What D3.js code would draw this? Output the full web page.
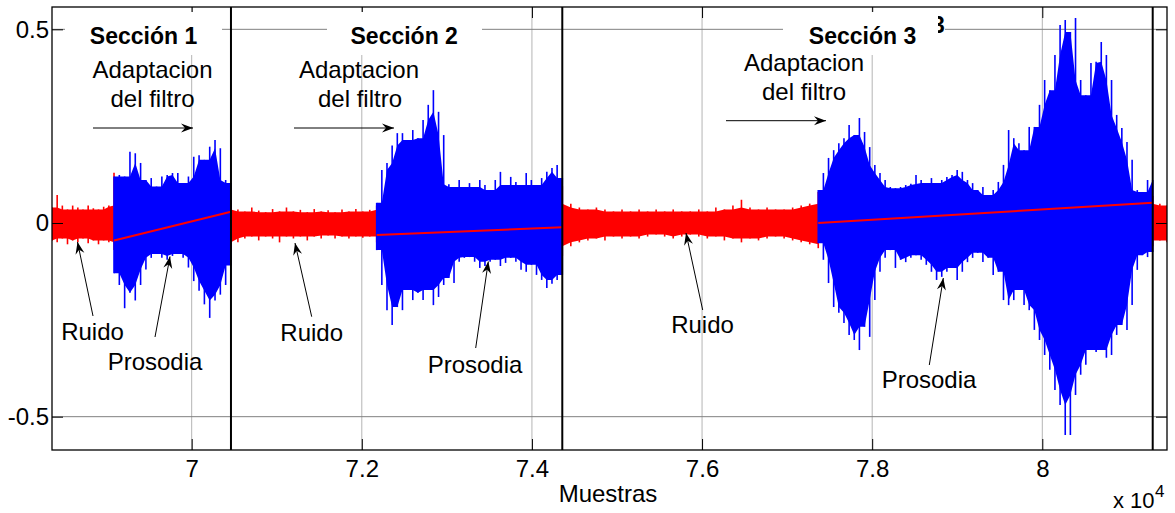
<!DOCTYPE html>
<html>
<head>
<meta charset="utf-8">
<script src="https://cdn.jsdelivr.net/npm/d3@7"></script>
<style>
  html, body { margin: 0; padding: 0; background: #fff; }
  svg { display: block; font-family: "Liberation Sans", Arial, Helvetica, sans-serif; }
</style>
</head>
<body>
<svg id="chart" width="1175" height="513"></svg>
<script>
// --- datos ---
const xDomain = [68358, 81466]
const yDomain = [-0.586, 0.5576]
const xTicks = [70000, 72000, 74000, 76000, 78000, 80000]
const yTicks = [-0.5, 0, 0.5]

// limites de cada tramo (muestras)
const ruidoTramos = [[68358, 69087], [70462, 72175], [74357, 77366], [81298, 81466]]
const prosodiaTramos = [[69087, 70462], [72175, 74357], [77366, 81298]]
const seccionLimites = [70462, 74357, 81298]

// envolventes del ruido (rojo)
const ruido1Hi = [0.04, 0.072, 0.045, 0.035, 0.045, 0.04, 0.035, 0.045, 0.038, 0.035, 0.042, 0.045, 0.13]
const ruido1Lo = [-0.045, -0.05, -0.04, -0.055, -0.045, -0.05, -0.04, -0.052, -0.045, -0.055, -0.045, -0.05, -0.07]
const ruido2Hi = [0.06, 0.035, 0.03, 0.04, 0.032, 0.028, 0.036, 0.03, 0.04, 0.03, 0.034, 0.028, 0.036, 0.03, 0.033, 0.028, 0.035, 0.03, 0.036, 0.03, 0.034, 0.045]
const ruido2Lo = [-0.075, -0.05, -0.04, -0.035, -0.045, -0.035, -0.04, -0.05, -0.035, -0.04, -0.035, -0.045, -0.035, -0.04, -0.032, -0.04, -0.035, -0.04, -0.035, -0.038, -0.035, -0.05]
const ruido3Hi = [0.095, 0.05, 0.04, 0.035, 0.04, 0.035, 0.03, 0.035, 0.03, 0.035, 0.03, 0.035, 0.03, 0.035, 0.03, 0.03, 0.035, 0.03, 0.04, 0.035, 0.045, 0.06, 0.04, 0.035, 0.04, 0.035, 0.035, 0.04, 0.045, 0.05, 0.08]
const ruido3Lo = [-0.085, -0.06, -0.05, -0.045, -0.04, -0.045, -0.035, -0.04, -0.035, -0.04, -0.035, -0.03, -0.035, -0.04, -0.035, -0.03, -0.035, -0.04, -0.035, -0.045, -0.04, -0.05, -0.04, -0.045, -0.04, -0.035, -0.04, -0.045, -0.05, -0.055, -0.065]
const ruido4Hi = [0.07, 0.05, 0.045]
const ruido4Lo = [-0.06, -0.045, -0.05]

// envolventes de la prosodia (azul)
const prosodia1Hi = [0.12, 0.124, 0.12, 0.184, 0.18, 0.155, 0.111, 0.116, 0.094, 0.12, 0.124, 0.129, 0.129, 0.103, 0.12, 0.171, 0.175, 0.163, 0.197, 0.214, 0.193, 0.111, 0.103]
const prosodia1Lo = [-0.13, -0.16, -0.22, -0.18, -0.2, -0.16, -0.12, -0.09, -0.08, -0.09, -0.095, -0.085, -0.08, -0.09, -0.115, -0.15, -0.175, -0.21, -0.245, -0.2, -0.185, -0.16, -0.11]
const prosodia2Hi = [0.052, 0.137, 0.155, 0.2, 0.232, 0.232, 0.214, 0.24, 0.219, 0.266, 0.305, 0.343, 0.287, 0.227, 0.1, 0.093, 0.111, 0.093, 0.103, 0.093, 0.111, 0.098, 0.085, 0.111, 0.132, 0.098, 0.119, 0.106, 0.098, 0.129, 0.111, 0.098, 0.116, 0.132, 0.142, 0.15, 0.116]
const prosodia2Lo = [-0.07, -0.16, -0.225, -0.263, -0.217, -0.225, -0.173, -0.199, -0.18, -0.199, -0.173, -0.212, -0.191, -0.16, -0.142, -0.155, -0.1, -0.09, -0.088, -0.1, -0.116, -0.111, -0.1, -0.095, -0.111, -0.103, -0.09, -0.1, -0.121, -0.126, -0.108, -0.134, -0.147, -0.168, -0.157, -0.147, -0.134]
const prosodia3Hi = [0.085, 0.129, 0.168, 0.188, 0.206, 0.219, 0.253, 0.227, 0.271, 0.235, 0.196, 0.150, 0.129, 0.111, 0.093, 0.090, 0.093, 0.098, 0.101, 0.124, 0.111, 0.103, 0.116, 0.103, 0.111, 0.119, 0.124, 0.137, 0.132, 0.111, 0.103, 0.085, 0.093, 0.072, 0.085, 0.106, 0.150, 0.240, 0.219, 0.206, 0.188, 0.248, 0.248, 0.305, 0.369, 0.343, 0.434, 0.511, 0.524, 0.493, 0.529, 0.369, 0.330, 0.413, 0.416, 0.467, 0.434, 0.369, 0.279, 0.245, 0.209, 0.163, 0.085, 0.080, 0.111, 0.111]
const prosodia3Lo = [-0.052, -0.095, -0.155, -0.217, -0.232, -0.258, -0.289, -0.302, -0.328, -0.268, -0.294, -0.199, -0.126, -0.090, -0.070, -0.116, -0.095, -0.101, -0.090, -0.083, -0.095, -0.108, -0.126, -0.147, -0.139, -0.126, -0.116, -0.147, -0.126, -0.101, -0.090, -0.077, -0.101, -0.090, -0.134, -0.126, -0.199, -0.212, -0.199, -0.173, -0.212, -0.225, -0.276, -0.302, -0.341, -0.379, -0.431, -0.470, -0.547, -0.547, -0.444, -0.392, -0.366, -0.328, -0.333, -0.328, -0.348, -0.341, -0.289, -0.263, -0.276, -0.212, -0.121, -0.083, -0.088, -0.075]

// tendencia del filtro (inicio, fin) en cada seccion
const tendencia = [[-0.045, 0.029], [-0.031, -0.011], [0.0, 0.052]]

// --- escalas ---
const L = 52, R = 1167, T = 7, B = 450
const x = d3.scaleLinear().domain(xDomain).range([L, R])
const y = d3.scaleLinear().domain(yDomain).range([B, T])

const svg = d3.select('#chart')
svg.append('rect').attr('width', 1175).attr('height', 513).attr('fill', '#fff')

const defs = svg.append('defs')
defs.append('clipPath').attr('id', 'plot')
    .append('rect').attr('x', L).attr('y', T).attr('width', R - L).attr('height', B - T)
defs.append('marker')
    .attr('id', 'head')
    .attr('viewBox', '-13 -6 14 12')
    .attr('refX', 0).attr('refY', 0)
    .attr('markerWidth', 14).attr('markerHeight', 12)
    .attr('markerUnits', 'userSpaceOnUse')
    .attr('orient', 'auto')
    .append('path').attr('d', 'M0,0 L-12,-4.5 L-8,0 L-12,4.5 Z').attr('fill', '#000')
defs.append('clipPath').attr('id', 'stray')
    .append('rect').attr('x', 938).attr('y', 0).attr('width', 12).attr('height', 50)

// --- rejilla ---
const grid = svg.append('g')
grid.selectAll('.gx').data(xTicks).join('line')
    .attr('x1', d => x(d)).attr('x2', d => x(d))
    .attr('y1', T).attr('y2', B)
    .attr('stroke', '#b4b4b4').attr('stroke-width', 1)
grid.selectAll('.gy').data(yTicks).join('line')
    .attr('x1', L).attr('x2', R)
    .attr('y1', d => y(d)).attr('y2', d => y(d))
    .attr('stroke', '#808080').attr('stroke-width', 1)

// --- senal ---
const plot = svg.append('g').attr('clip-path', 'url(#plot)')

// cuerpo macizo = minimo local de la envolvente, y los picos como trazos verticales
function drawTramo([s0, s1], hi, lo, color) {
    const step = (s1 - s0) / (hi.length - 1)
    const n = hi.length
    const pts = hi.map((h, i) => {
        const a = Math.max(0, i - 1), b = Math.min(n - 1, i + 1)
        return {
            s: s0 + i * step, h, l: lo[i],
            bh: Math.min(hi[a], h, hi[b]),
            bl: Math.max(lo[a], lo[i], lo[b]),
        }
    })
    plot.append('path').datum(pts)
        .attr('d', d3.area().x(d => x(d.s)).y0(d => y(d.bl)).y1(d => y(d.bh)))
        .attr('fill', color)
    plot.append('g').selectAll('line').data(pts).join('line')
        .attr('x1', d => x(d.s)).attr('x2', d => x(d.s))
        .attr('y1', d => y(d.l)).attr('y2', d => y(d.h))
        .attr('stroke', color).attr('stroke-width', 1.6)
}

const ruidoHi = [ruido1Hi, ruido2Hi, ruido3Hi, ruido4Hi]
const ruidoLo = [ruido1Lo, ruido2Lo, ruido3Lo, ruido4Lo]
ruidoTramos.forEach((t, i) => drawTramo(t, ruidoHi[i], ruidoLo[i], '#ff0000'))

const prosHi = [prosodia1Hi, prosodia2Hi, prosodia3Hi]
const prosLo = [prosodia1Lo, prosodia2Lo, prosodia3Lo]
prosodiaTramos.forEach((t, i) => drawTramo(t, prosHi[i], prosLo[i], '#0000ff'))

// lineas de tendencia
prosodiaTramos.forEach(([s0, s1], i) => {
    plot.append('line')
        .attr('x1', x(s0)).attr('x2', x(s1))
        .attr('y1', y(tendencia[i][0])).attr('y2', y(tendencia[i][1]))
        .attr('stroke', '#ff0000').attr('stroke-width', 2)
})

// limites de seccion
svg.selectAll('.sec').data(seccionLimites).join('line')
    .attr('x1', d => x(d)).attr('x2', d => x(d))
    .attr('y1', T).attr('y2', B)
    .attr('stroke', '#000').attr('stroke-width', 2)

// --- ejes ---
const fontAxis = 24
const axB = svg.append('g').attr('transform', `translate(0,${B})`)
    .call(d3.axisBottom(x).tickValues(xTicks).tickFormat(d => String(d / 10000))
        .tickSizeInner(-11).tickSizeOuter(0).tickPadding(10))
const axT = svg.append('g').attr('transform', `translate(0,${T})`)
    .call(d3.axisTop(x).tickValues(xTicks).tickFormat('').tickSizeInner(-11).tickSizeOuter(0))
const axL = svg.append('g').attr('transform', `translate(${L},0)`)
    .call(d3.axisLeft(y).tickValues(yTicks).tickFormat(d => String(d))
        .tickSizeInner(-11).tickSizeOuter(0).tickPadding(3))
const axR = svg.append('g').attr('transform', `translate(${R},0)`)
    .call(d3.axisRight(y).tickValues(yTicks).tickFormat('').tickSizeInner(-11).tickSizeOuter(0))

for (const ax of [axB, axT, axL, axR]) {
    ax.select('.domain').remove()
    ax.attr('font-family', null).attr('font-size', fontAxis)
    ax.selectAll('.tick line').attr('stroke', '#000').attr('stroke-width', 1)
    ax.selectAll('.tick text').attr('fill', '#000')
}

svg.append('rect')
    .attr('x', L).attr('y', T).attr('width', R - L).attr('height', B - T)
    .attr('fill', 'none').attr('stroke', '#000').attr('stroke-width', 1.3)

svg.append('text').attr('x', 608).attr('y', 502).attr('text-anchor', 'middle')
    .attr('font-size', 24).text('Muestras')
svg.append('text').attr('x', 1113).attr('y', 508).attr('font-size', 22).text('x 10')
svg.append('text').attr('x', 1155).attr('y', 497).attr('font-size', 17).text('4')

// --- anotaciones ---
const cajas = [
    { t: 'Sección 1', cx: 143.5, x0: 65, x1: 222 },
    { t: 'Sección 2', cx: 404.2, x0: 327, x1: 482 },
    { t: 'Sección 3', cx: 862.5, x0: 783, x1: 945 },
]
cajas.forEach(c => {
    svg.append('rect').attr('x', c.x0).attr('y', 12).attr('width', c.x1 - c.x0).attr('height', 43)
        .attr('fill', '#fff')
    svg.append('text').attr('x', c.cx).attr('y', 44).attr('text-anchor', 'middle')
        .attr('font-size', 23).attr('font-weight', 'bold').text(c.t)
})
// resto de un "3" que asoma a la derecha del tercer recuadro
svg.append('text').attr('x', 932).attr('y', 33).attr('font-size', 23).attr('font-weight', 'bold')
    .attr('clip-path', 'url(#stray)').text('3')

const textos = [
    { t: 'Adaptacion', x: 152.5, y: 78 }, { t: 'del filtro', x: 152.5, y: 107 },
    { t: 'Adaptacion', x: 359, y: 78 }, { t: 'del filtro', x: 360, y: 107 },
    { t: 'Adaptacion', x: 804, y: 71 }, { t: 'del filtro', x: 804, y: 100 },
    { t: 'Ruido', x: 92.5, y: 340 }, { t: 'Prosodia', x: 155, y: 370 },
    { t: 'Ruido', x: 311.7, y: 341 }, { t: 'Prosodia', x: 475, y: 373 },
    { t: 'Ruido', x: 702.5, y: 333 }, { t: 'Prosodia', x: 929, y: 388 },
]
svg.selectAll('.ann').data(textos).join('text')
    .attr('x', d => d.x).attr('y', d => d.y).attr('text-anchor', 'middle')
    .attr('font-size', 24).text(d => d.t)

const flechas = [
    [93, 128, 193, 128], [294, 128, 394, 128], [726, 120.7, 826, 120.7],
    [93, 316, 77.5, 242], [155, 337, 170, 256.5],
    [311.7, 316.7, 295, 243], [475.7, 348, 488.3, 261.5],
    [702.7, 310, 686, 233], [929.3, 365, 943.3, 278],
]
svg.selectAll('.arr').data(flechas).join('line')
    .attr('x1', d => d[0]).attr('y1', d => d[1])
    .attr('x2', d => d[2]).attr('y2', d => d[3])
    .attr('stroke', '#000').attr('stroke-width', 1)
    .attr('marker-end', 'url(#head)')
</script>
</body>
</html>
